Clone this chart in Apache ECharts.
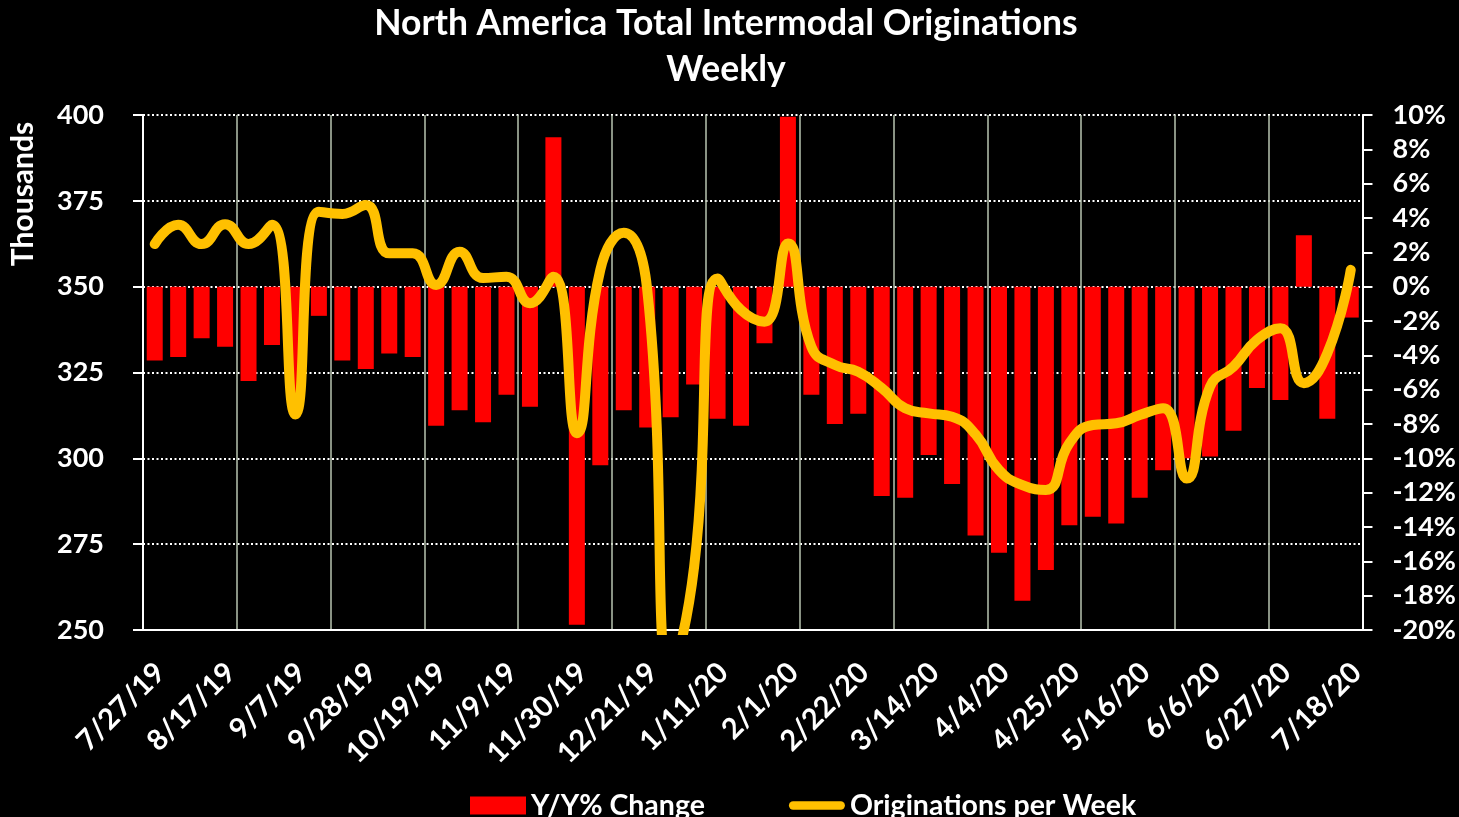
<!DOCTYPE html>
<html>
<head>
<meta charset="utf-8">
<script src="https://cdn.jsdelivr.net/npm/echarts@6/dist/echarts.min.js"></script>
<style>
html,body{margin:0;padding:0;background:#000;}
#chart{width:1459px;height:817px;}
</style>
</head>
<body>
<div id="chart"></div>
<script>
const categories = ['7/27/19','8/3/19','8/10/19','8/17/19','8/24/19','8/31/19','9/7/19','9/14/19','9/21/19','9/28/19','10/5/19','10/12/19','10/19/19','10/26/19','11/2/19','11/9/19','11/16/19','11/23/19','11/30/19','12/7/19','12/14/19','12/21/19','12/28/19','1/4/20','1/11/20','1/18/20','1/25/20','2/1/20','2/8/20','2/15/20','2/22/20','2/29/20','3/7/20','3/14/20','3/21/20','3/28/20','4/4/20','4/11/20','4/18/20','4/25/20','5/2/20','5/9/20','5/16/20','5/23/20','5/30/20','6/6/20','6/13/20','6/20/20','6/27/20','7/4/20','7/11/20','7/18/20'];

// Y/Y % change (right axis, percent)
const yoyChange = [-4.3,-4.1,-3.0,-3.5,-5.5,-3.4,-7.0,-1.7,-4.3,-4.8,-3.9,-4.1,-8.1,-7.2,-7.9,-6.3,-7.0,8.7,-19.7,-10.4,-7.2,-8.2,-7.6,-5.7,-7.7,-8.1,-3.3,9.9,-6.3,-8.0,-7.4,-12.2,-12.3,-9.8,-11.5,-14.5,-15.5,-18.3,-16.5,-13.9,-13.4,-13.8,-12.3,-10.7,-10.0,-9.9,-8.4,-5.9,-6.6,3.0,-7.7,-1.8];

// Originations per week (left axis, thousands)
const originations = [362.4,368.0,362.4,368.2,362.4,368.0,312.8,371.8,371.2,373.8,359.7,359.7,350.5,360.2,352.5,352.9,345.2,352.9,307.3,354.9,365.7,349.2,238.0,268.4,352.4,343.2,339.8,362.6,332.5,327.2,325.2,320.5,314.6,313.1,312.1,307.0,296.6,292.2,290.8,304.4,309.7,310.2,312.6,314.6,294.1,320.9,326.7,334.5,337.9,321.9,330.6,354.9];

const leftTicks = {min:250, max:400, interval:25};
const rightTicks = {min:-20, max:10, interval:2};

const FONT = 'Lato';
const chart = echarts.init(document.getElementById('chart'), null, {renderer:'canvas'});
chart.setOption({
  backgroundColor:'#000000',
  animation:false,
  title:{
    text:'North America Total Intermodal Originations\nWeekly',
    left:721, top:-4, textAlign:'center',
    textStyle:{color:'#fff', fontFamily:FONT, fontWeight:'bold', fontSize:35.5, lineHeight:46}
  },
  legend:{
    left:470, top:791, padding:0, itemWidth:56, itemHeight:18, itemGap:84,
    textStyle:{color:'#fff', fontFamily:FONT, fontWeight:'bold', fontSize:28.5},
    data:[
      {name:'Y/Y% Change', icon:'rect', itemStyle:{color:'#FF0000'}},
      {name:'Originations per Week', icon:'path://M4.5,0 H55.5 A4.5,4.5 0 0 1 55.5,9 H4.5 A4.5,4.5 0 0 1 4.5,0 Z', itemStyle:{color:'#FFC000'}}
    ]
  },
  graphic:[{
    type:'text', x:23, y:194, rotation:Math.PI/2,
    style:{text:'Thousands', fill:'#fff', font:'bold 30px Lato', textAlign:'center', textVerticalAlign:'middle'}
  }],
  grid:{left:143, right:96, top:115, bottom:187},
  xAxis:{
    type:'category', data:categories, boundaryGap:true,
    axisLine:{onZero:false, lineStyle:{color:'#fff', width:2}},
    axisTick:{interval:3, length:10, lineStyle:{color:'#fff', width:2}},
    axisLabel:{interval:2, rotate:45, color:'#fff', fontFamily:FONT, fontWeight:'bold', fontSize:29, lineHeight:16, margin:32, verticalAlign:'top'},
    splitLine:{show:true, interval:3, lineStyle:{color:'#b9c5b1', width:1.5, type:'solid'}}
  },
  yAxis:[{
    type:'value', min:leftTicks.min, max:leftTicks.max, interval:leftTicks.interval,
    axisLine:{show:true, lineStyle:{color:'#fff', width:2}},
    axisTick:{show:true, length:10, lineStyle:{color:'#fff', width:2}},
    axisLabel:{color:'#fff', fontFamily:FONT, fontWeight:'bold', fontSize:27, margin:39},
    splitLine:{show:true, lineStyle:{color:'#fff', width:2, type:[2,2.5]}}
  },{
    type:'value', min:rightTicks.min, max:rightTicks.max, interval:rightTicks.interval,
    position:'right',
    axisLine:{show:true, lineStyle:{color:'#fff', width:2}},
    axisTick:{show:true, length:10, lineStyle:{color:'#fff', width:2}},
    axisLabel:{color:'#fff', fontFamily:FONT, fontWeight:'bold', fontSize:27, margin:30, formatter:'{value}%'},
    splitLine:{show:false}
  }],
  series:[{
    name:'Y/Y% Change', type:'bar', yAxisIndex:1, data:yoyChange,
    barWidth:16, itemStyle:{color:'#FF0000'}
  },{
    name:'Originations per Week', type:'line', yAxisIndex:0, data:originations,
    smooth:0.5, showSymbol:false, symbol:'none', clip:true,
    lineStyle:{color:'#FFC000', width:10, cap:'round', join:'round'},
    itemStyle:{color:'#FFC000'}
  }]
});
</script>
</body>
</html>
